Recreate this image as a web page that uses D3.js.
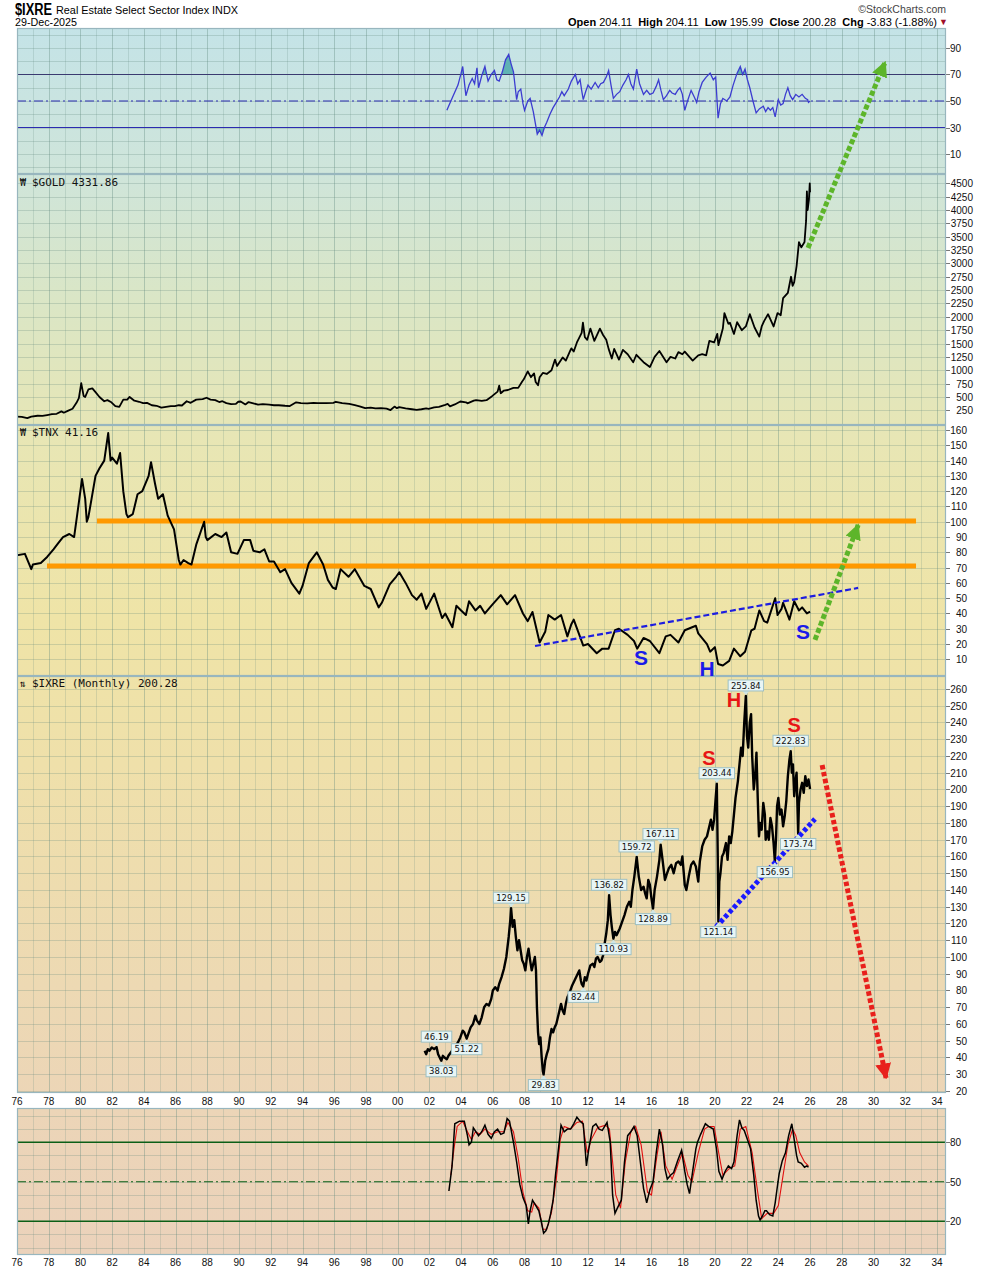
<!DOCTYPE html>
<html><head><meta charset="utf-8">
<script src="https://cdn.jsdelivr.net/npm/d3@7"></script>
<style>body{margin:0;background:#fff}svg{display:block}</style>
</head><body><svg id="c" width="990" height="1270"></svg>
<script>
// ---------------- DATA ----------------
const xTickYears = d3.range(1976, 2035, 2);
const rsiTicks = [10, 30, 50, 70, 90];
const goldTicks = d3.range(250, 4501, 250);
const tnxTicks = d3.range(10, 161, 10);
const ixreTicks = d3.range(20, 261, 10);
const stochTicks = [20, 50, 80];

const rsiData = [[2003.1,43],[2003.5,54],[2003.8,62],[2004.0,71],[2004.1,76],[2004.3,54],[2004.5,62],[2004.7,67],[2004.85,63],[2005.0,75],[2005.1,60],[2005.3,69],[2005.5,76],[2005.7,65],[2005.9,70],[2006.1,73],[2006.25,66],[2006.4,65],[2006.6,72],[2006.8,81],[2007.0,85],[2007.15,78],[2007.3,72],[2007.5,51],[2007.6,57],[2007.76,59],[2007.9,48],[2008.0,43],[2008.2,50],[2008.35,52],[2008.55,42],[2008.8,25],[2008.95,28],[2009.1,24],[2009.25,30],[2009.4,34],[2009.6,40],[2009.8,45],[2010.0,49],[2010.2,53],[2010.35,57],[2010.5,54],[2010.76,59],[2010.95,65],[2011.2,70],[2011.35,63],[2011.5,66],[2011.6,58],[2011.7,51],[2011.85,57],[2012.0,62],[2012.2,59],[2012.45,64],[2012.65,60],[2012.8,63],[2012.97,64],[2013.15,68],[2013.3,73],[2013.45,62],[2013.6,52],[2013.8,55],[2014.0,57],[2014.2,62],[2014.4,66],[2014.55,70],[2014.7,63],[2014.86,59],[2015.07,74],[2015.25,63],[2015.5,55],[2015.7,58],[2015.9,55],[2016.1,56],[2016.3,61],[2016.45,66],[2016.6,58],[2016.75,51],[2016.95,54],[2017.15,58],[2017.3,56],[2017.5,55],[2017.65,58],[2017.8,60],[2017.95,55],[2018.1,43],[2018.3,51],[2018.5,58],[2018.7,53],[2018.85,49],[2019.0,57],[2019.2,64],[2019.45,68],[2019.7,71],[2019.9,66],[2020.05,68],[2020.2,37],[2020.35,48],[2020.5,52],[2020.75,50],[2020.95,53],[2021.15,62],[2021.4,71],[2021.6,76],[2021.75,70],[2021.9,74],[2022.05,66],[2022.2,60],[2022.4,50],[2022.6,41],[2022.8,44],[2023.05,46],[2023.2,42],[2023.35,45],[2023.5,43],[2023.65,45],[2023.8,38],[2024.0,51],[2024.15,47],[2024.3,48],[2024.45,55],[2024.6,60],[2024.75,54],[2024.9,51],[2025.1,55],[2025.3,53],[2025.5,55],[2025.7,52],[2025.85,51],[2025.9,49],[2026.0,50]];

const goldData = [[1976.0,130],[1976.3,128],[1976.65,105],[1976.9,133],[1977.3,148],[1977.6,145],[1977.9,162],[1978.2,180],[1978.5,185],[1978.8,230],[1978.95,205],[1979.2,240],[1979.5,280],[1979.75,390],[1979.9,480],[1980.05,760],[1980.2,520],[1980.3,500],[1980.5,640],[1980.75,660],[1980.95,590],[1981.2,500],[1981.5,420],[1981.7,440],[1981.95,400],[1982.2,330],[1982.45,315],[1982.7,450],[1982.95,450],[1983.1,500],[1983.4,430],[1983.7,410],[1983.95,385],[1984.2,390],[1984.5,345],[1984.8,335],[1985.1,300],[1985.4,315],[1985.7,330],[1985.95,327],[1986.2,345],[1986.4,340],[1986.7,420],[1986.95,390],[1987.3,450],[1987.7,460],[1987.95,485],[1988.2,450],[1988.5,440],[1988.75,405],[1988.95,420],[1989.2,385],[1989.5,365],[1989.8,370],[1989.95,410],[1990.1,415],[1990.4,360],[1990.6,405],[1990.9,380],[1991.2,355],[1991.5,365],[1991.9,355],[1992.2,345],[1992.5,345],[1992.9,335],[1993.2,330],[1993.6,400],[1993.9,385],[1994.3,380],[1994.7,390],[1994.95,385],[1995.5,385],[1995.95,390],[1996.1,410],[1996.5,385],[1996.95,370],[1997.3,345],[1997.6,325],[1997.95,290],[1998.3,300],[1998.6,285],[1998.95,290],[1999.3,280],[1999.55,255],[1999.8,320],[1999.95,290],[2000.1,310],[2000.5,285],[2000.9,270],[2001.2,260],[2001.5,270],[2001.8,285],[2001.95,278],[2002.3,305],[2002.6,315],[2002.95,345],[2003.15,370],[2003.3,325],[2003.6,360],[2003.95,415],[2004.3,400],[2004.4,380],[2004.8,430],[2004.95,440],[2005.3,425],[2005.6,440],[2005.95,515],[2006.3,600],[2006.4,710],[2006.5,570],[2006.7,620],[2006.95,630],[2007.3,670],[2007.6,670],[2007.85,790],[2007.95,830],[2008.2,980],[2008.4,870],[2008.6,940],[2008.7,780],[2008.85,720],[2008.95,870],[2009.15,950],[2009.4,930],[2009.7,1000],[2009.92,1200],[2010.05,1080],[2010.4,1240],[2010.6,1180],[2010.9,1380],[2010.95,1410],[2011.1,1350],[2011.3,1520],[2011.6,1700],[2011.68,1890],[2011.8,1620],[2011.95,1570],[2012.15,1780],[2012.4,1550],[2012.75,1780],[2012.95,1660],[2013.15,1570],[2013.3,1400],[2013.5,1220],[2013.65,1400],[2013.95,1200],[2014.2,1380],[2014.5,1300],[2014.85,1150],[2015.05,1290],[2015.5,1150],[2015.9,1060],[2016.2,1250],[2016.5,1360],[2016.95,1150],[2017.2,1250],[2017.5,1220],[2017.7,1340],[2017.95,1300],[2018.1,1350],[2018.6,1180],[2018.95,1280],[2019.2,1300],[2019.45,1280],[2019.65,1550],[2019.95,1520],[2020.15,1680],[2020.22,1470],[2020.5,1780],[2020.6,2070],[2020.85,1870],[2020.95,1890],[2021.2,1680],[2021.4,1900],[2021.7,1750],[2021.95,1820],[2022.2,2050],[2022.5,1800],[2022.8,1630],[2022.95,1820],[2023.1,1920],[2023.35,2050],[2023.7,1820],[2023.95,2070],[2024.15,2030],[2024.3,2350],[2024.6,2450],[2024.8,2750],[2024.9,2580],[2025.0,2650],[2025.15,2950],[2025.3,3400],[2025.45,3300],[2025.65,3400],[2025.75,3800],[2025.8,4350],[2025.85,4000],[2025.93,4200],[2025.98,4500],[2026.0,4332]];

const tnxData = [[1976.0,78],[1976.5,79],[1976.9,69],[1977.0,72],[1977.5,73],[1977.9,77],[1978.3,82],[1978.6,86],[1978.9,90],[1979.3,92],[1979.6,90],[1979.8,105],[1980.1,128],[1980.3,115],[1980.4,100],[1980.5,103],[1980.7,115],[1980.95,130],[1981.2,135],[1981.5,140],[1981.75,158],[1981.9,140],[1982.0,142],[1982.3,138],[1982.5,145],[1982.7,120],[1982.9,105],[1983.0,103],[1983.3,105],[1983.6,118],[1983.9,120],[1984.3,130],[1984.45,139],[1984.7,125],[1984.9,115],[1985.2,118],[1985.5,104],[1985.9,95],[1986.2,75],[1986.3,72],[1986.5,75],[1986.8,73],[1987.0,72],[1987.3,85],[1987.8,100],[1987.9,90],[1988.0,88],[1988.5,92],[1988.9,90],[1989.2,93],[1989.5,80],[1989.9,79],[1990.3,88],[1990.7,88],[1990.9,81],[1991.3,80],[1991.6,82],[1991.9,74],[1992.2,74],[1992.6,67],[1992.9,69],[1993.3,60],[1993.8,53],[1994.0,58],[1994.4,73],[1994.9,80],[1995.3,72],[1995.6,62],[1995.9,57],[1996.1,56],[1996.4,69],[1996.9,64],[1997.3,69],[1997.9,58],[1998.3,56],[1998.8,44],[1999.0,47],[1999.5,59],[1999.9,64],[2000.1,67],[2000.5,60],[2000.9,52],[2001.2,49],[2001.5,53],[2001.8,43],[2002.3,53],[2002.8,37],[2003.0,40],[2003.45,31],[2003.7,45],[2004.0,42],[2004.3,39],[2004.5,48],[2004.9,42],[2005.2,45],[2005.5,40],[2005.9,45],[2006.5,52],[2006.9,46],[2007.4,52],[2007.9,40],[2008.2,35],[2008.5,41],[2008.95,21],[2009.3,28],[2009.5,39],[2009.9,36],[2010.3,39],[2010.7,25],[2010.95,33],[2011.1,36],[2011.7,19],[2012.0,20],[2012.55,14],[2012.9,17],[2013.3,17],[2013.7,29],[2013.95,30],[2014.5,26],[2014.9,22],[2015.1,17],[2015.5,24],[2015.9,22],[2016.5,14],[2016.9,25],[2017.2,26],[2017.7,21],[2018.1,29],[2018.8,32],[2018.95,27],[2019.5,20],[2019.7,15],[2020.0,18],[2020.2,7],[2020.5,6],[2020.9,9],[2021.2,17],[2021.6,12],[2021.9,15],[2022.3,29],[2022.5,30],[2022.8,42],[2023.1,35],[2023.3,34],[2023.8,50],[2023.95,39],[2024.2,43],[2024.3,47],[2024.7,36],[2025.0,48],[2025.3,42],[2025.5,44],[2025.8,40],[2026.0,41.16]];

const ixreData = [[2001.7,44],[2001.8,42],[2001.9,45],[2002.0,44],[2002.15,46],[2002.3,45],[2002.45,46.19],[2002.55,42],[2002.65,40],[2002.75,38.03],[2002.85,41],[2002.95,40],[2003.1,39],[2003.2,41],[2003.35,43],[2003.5,45],[2003.65,47],[2003.8,49],[2003.95,52],[2004.1,56],[2004.2,55],[2004.35,51.22],[2004.45,54],[2004.6,58],[2004.75,60],[2004.9,65],[2005.0,62],[2005.15,60],[2005.3,64],[2005.45,70],[2005.6,72],[2005.75,71],[2005.9,75],[2006.0,80],[2006.15,82],[2006.3,80],[2006.4,84],[2006.55,88],[2006.7,93],[2006.85,100],[2007.0,112],[2007.1,122],[2007.15,129.15],[2007.25,118],[2007.35,122],[2007.45,112],[2007.55,104],[2007.65,110],[2007.75,104],[2007.85,98],[2007.95,96],[2008.05,92],[2008.15,100],[2008.25,105],[2008.35,98],[2008.45,92],[2008.55,96],[2008.65,100],[2008.72,92],[2008.78,70],[2008.85,55],[2008.92,48],[2009.0,52],[2009.08,40],[2009.15,32],[2009.2,29.83],[2009.3,38],[2009.4,42],[2009.5,45],[2009.6,52],[2009.7,57],[2009.8,55],[2009.9,58],[2010.0,60],[2010.15,66],[2010.3,72],[2010.4,68],[2010.5,66],[2010.6,72],[2010.7,76],[2010.85,79],[2011.0,83],[2011.15,86],[2011.3,89],[2011.45,92],[2011.55,86],[2011.6,84],[2011.7,82.44],[2011.8,88],[2011.9,86],[2012.0,90],[2012.15,95],[2012.3,96],[2012.4,94],[2012.5,99],[2012.6,100],[2012.75,97],[2012.85,98],[2012.95,101],[2013.05,108],[2013.15,114],[2013.25,122],[2013.33,136.82],[2013.42,125],[2013.5,118],[2013.6,110.93],[2013.7,115],[2013.8,113],[2013.9,115],[2014.0,117],[2014.15,121],[2014.3,125],[2014.45,130],[2014.6,133],[2014.7,130],[2014.8,140],[2014.92,148],[2015.07,159.72],[2015.2,148],[2015.35,140],[2015.5,142],[2015.6,138],[2015.7,135],[2015.8,146],[2015.9,143],[2016.0,135],[2016.1,128.89],[2016.2,140],[2016.35,148],[2016.5,158],[2016.58,167.11],[2016.7,158],[2016.85,146],[2016.95,149],[2017.1,153],[2017.25,155],[2017.4,150],[2017.55,156],[2017.7,157],[2017.85,155],[2017.95,160],[2018.1,143],[2018.2,140],[2018.35,148],[2018.5,155],[2018.65,157],[2018.8,154],[2018.95,145],[2019.05,157],[2019.2,166],[2019.35,170],[2019.5,172],[2019.65,178],[2019.75,182],[2019.85,176],[2019.95,182],[2020.05,195],[2020.12,203.44],[2020.18,160],[2020.22,121.14],[2020.28,145],[2020.35,150],[2020.45,160],[2020.55,162],[2020.7,168],[2020.8,158],[2020.9,172],[2021.0,168],[2021.1,175],[2021.2,185],[2021.3,195],[2021.45,205],[2021.55,215],[2021.65,225],[2021.75,220],[2021.85,240],[2021.95,255.84],[2022.02,232],[2022.1,225],[2022.2,240],[2022.28,245],[2022.35,220],[2022.45,200],[2022.55,210],[2022.62,222],[2022.7,195],[2022.78,172],[2022.85,180],[2022.95,176],[2023.05,192],[2023.15,185],[2023.2,170],[2023.3,175],[2023.4,170],[2023.5,183],[2023.6,178],[2023.7,168],[2023.78,156.95],[2023.85,170],[2023.92,190],[2024.0,195],[2024.1,185],[2024.2,188],[2024.3,178],[2024.4,184],[2024.5,193],[2024.6,208],[2024.7,218],[2024.78,222.83],[2024.85,210],[2024.92,215],[2025.0,196],[2025.08,205],[2025.15,210],[2025.25,173.74],[2025.3,192],[2025.4,200],[2025.5,204],[2025.6,198],[2025.7,208],[2025.8,202],[2025.9,206],[2026.0,200.28]];

const ixreLabels = [
  {year:2002.45, value:46.19, text:"46.19", dir:"high"},
  {year:2002.75, value:38.03, text:"38.03", dir:"low"},
  {year:2004.35, value:51.22, text:"51.22", dir:"low"},
  {year:2007.15, value:129.15, text:"129.15", dir:"high"},
  {year:2009.2, value:29.83, text:"29.83", dir:"low"},
  {year:2011.7, value:82.44, text:"82.44", dir:"low"},
  {year:2013.33, value:136.82, text:"136.82", dir:"high"},
  {year:2013.6, value:110.93, text:"110.93", dir:"low"},
  {year:2015.07, value:159.72, text:"159.72", dir:"high"},
  {year:2016.1, value:128.89, text:"128.89", dir:"low"},
  {year:2016.58, value:167.11, text:"167.11", dir:"high"},
  {year:2020.12, value:203.44, text:"203.44", dir:"high"},
  {year:2020.22, value:121.14, text:"121.14", dir:"low"},
  {year:2021.95, value:255.84, text:"255.84", dir:"high"},
  {year:2023.78, value:156.95, text:"156.95", dir:"low"},
  {year:2024.78, value:222.83, text:"222.83", dir:"high"},
  {year:2025.25, value:173.74, text:"173.74", dir:"low"}
];

const stochK = [[2003.23,43],[2003.43,62],[2003.6,94],[2003.9,96],[2004.2,96],[2004.4,85],[2004.5,78],[2004.65,80],[2004.77,91],[2005.1,85],[2005.3,88],[2005.5,93],[2005.7,86],[2005.9,83],[2006.1,88],[2006.3,90],[2006.5,86],[2006.7,87],[2006.9,98],[2007.05,96],[2007.3,80],[2007.5,65],[2007.7,48],[2007.9,38],[2008.1,32],[2008.24,18],[2008.35,28],[2008.5,36],[2008.7,32],[2008.9,28],[2009.05,20],[2009.2,11],[2009.35,13],[2009.5,18],[2009.65,26],[2009.8,36],[2009.95,55],[2010.1,71],[2010.3,93],[2010.5,88],[2010.7,90],[2010.9,90],[2011.1,94],[2011.3,99],[2011.5,96],[2011.7,94],[2011.9,62],[2012.05,75],[2012.3,92],[2012.5,94],[2012.7,90],[2012.9,89],[2013.05,92],[2013.2,95],[2013.4,80],[2013.55,40],[2013.7,26],[2013.85,30],[2014.1,36],[2014.3,65],[2014.5,85],[2014.7,88],[2014.9,92],[2015.1,85],[2015.3,65],[2015.5,45],[2015.7,34],[2015.9,44],[2016.1,50],[2016.3,72],[2016.5,90],[2016.7,78],[2016.85,60],[2017.0,52],[2017.2,55],[2017.4,57],[2017.65,66],[2017.9,74],[2018.1,58],[2018.25,48],[2018.4,41],[2018.6,58],[2018.8,75],[2018.9,80],[2019.1,86],[2019.4,94],[2019.6,92],[2019.9,90],[2020.1,75],[2020.25,58],[2020.45,52],[2020.65,58],[2020.85,62],[2021.05,60],[2021.2,65],[2021.4,85],[2021.55,97],[2021.7,91],[2021.85,89],[2022.05,82],[2022.25,75],[2022.45,55],[2022.6,36],[2022.75,24],[2022.85,21],[2023.0,24],[2023.15,28],[2023.25,28],[2023.45,25],[2023.65,24],[2023.8,34],[2023.9,43],[2024.05,56],[2024.25,66],[2024.45,72],[2024.65,85],[2024.85,94],[2025.0,82],[2025.15,70],[2025.25,65],[2025.45,64],[2025.65,61],[2025.8,62],[2025.9,61]];

const stochD = [[2003.35,55],[2003.55,75],[2003.75,92],[2004.1,96],[2004.4,88],[2004.65,82],[2004.9,88],[2005.2,86],[2005.5,90],[2005.9,86],[2006.3,88],[2006.7,88],[2006.95,95],[2007.3,88],[2007.6,68],[2007.9,42],[2008.2,28],[2008.45,27],[2008.6,34],[2008.9,30],[2009.15,14],[2009.4,14],[2009.7,27],[2010.0,52],[2010.25,82],[2010.5,92],[2010.9,90],[2011.3,95],[2011.65,96],[2011.95,72],[2012.2,82],[2012.6,91],[2013.1,93],[2013.35,90],[2013.75,40],[2014.05,30],[2014.35,65],[2014.7,88],[2015.0,92],[2015.35,78],[2015.75,42],[2016.0,40],[2016.35,70],[2016.6,88],[2016.9,62],[2017.3,52],[2017.5,58],[2017.95,72],[2018.3,55],[2018.55,50],[2018.95,72],[2019.35,90],[2019.6,92],[2019.95,92],[2020.3,68],[2020.5,55],[2020.9,60],[2021.25,62],[2021.6,90],[2021.95,92],[2022.35,72],[2022.7,42],[2022.95,22],[2023.3,26],[2023.7,26],[2024.0,32],[2024.3,55],[2024.6,78],[2024.9,90],[2025.1,85],[2025.35,72],[2025.65,65],[2025.9,62]];

const tnxLetters = [{t:"S",year:2015.34,value:11.5},{t:"H",year:2019.5,value:4.3},{t:"S",year:2025.56,value:28.5}];
const ixreLetters = [{t:"S",year:2019.63,value:219},{t:"H",year:2021.2,value:253.6},{t:"S",year:2024.99,value:239}];

const orangeLevels = [{value:100.5, from:1981.04, to:2032.68},{value:71.05, from:1977.89, to:2032.68}];
const tnxTrend = {from:[2008.66,18.7], to:[2029.03,56.7]};
const tnxArrow = {from:[2026.31,22.7], to:[2029.03,97.9]};
const goldArrow = {from:[2025.87,3290], to:[2030.73,6768]};
const ixreTrend = {from:[2020.07,117.9], to:[2026.31,182.4]};
const ixreArrow = {from:[2026.76,214.6], to:[2030.79,27.8]};

// ---------------- LAYOUT ----------------
const L = 17, R = 946;
const svg = d3.select("#c");
const x = d3.scaleLinear().domain([1976, 2034.57]).range([L, R]);
const axisFont = "'Liberation Sans', Arial, sans-serif";
const narrow = "'Liberation Sans Narrow','Arial Narrow','Liberation Sans',Arial,sans-serif";

const P = {
  rsi:  {top:28,  bottom:174,  y:d3.scaleLinear().domain([-5,105]).range([174,28]), ticks:rsiTicks, grid:d3.range(0,101,10), labelEnd:961},
  gold: {top:174, bottom:425,  y:d3.scaleLinear().domain([-25,4674]).range([425,174]), ticks:goldTicks, grid:goldTicks, labelEnd:973},
  tnx:  {top:425, bottom:676,  y:d3.scaleLinear().domain([-0.9,163.3]).range([676,425]), ticks:tnxTicks, grid:tnxTicks, labelEnd:967},
  ixre: {top:676, bottom:1093, y:d3.scaleLinear().domain([18.8,267.76]).range([1093,676]), ticks:ixreTicks, grid:ixreTicks, labelEnd:967},
  stoch:{top:1108,bottom:1255, y:d3.scaleLinear().domain([-5.6,106]).range([1255,1108]), ticks:stochTicks, grid:d3.range(0,101,10), labelEnd:961}
};

const defs = svg.append("defs");
const grad = defs.append("linearGradient").attr("id","bg").attr("gradientUnits","userSpaceOnUse")
  .attr("x1",0).attr("x2",0).attr("y1",28).attr("y2",1255);
[[0,"#c4e3e7"],[0.12,"#cfe5da"],[0.22,"#dae6c6"],[0.34,"#e8e6b4"],[0.48,"#efe4a7"],[0.6,"#efe0aa"],[0.78,"#edd9b3"],[0.88,"#ecd5b7"],[1,"#ebd2bb"]]
  .forEach(([o,c])=>grad.append("stop").attr("offset",o).attr("stop-color",c));

function marker(id,color){
  defs.append("marker").attr("id",id).attr("viewBox","0 0 10 10").attr("refX",9).attr("refY",5)
    .attr("markerWidth",16).attr("markerHeight",16).attr("markerUnits","userSpaceOnUse").attr("orient","auto")
    .append("path").attr("d","M0,0 L10,5 L0,10 Z").attr("fill",color);
}
marker("mGreen","#5db52a"); marker("mRed","#e8201c");

Object.entries(P).forEach(([k,p])=>{
  defs.append("clipPath").attr("id","clip-"+k).append("rect")
    .attr("x",L).attr("y",p.top).attr("width",R-L).attr("height",p.bottom-p.top);
  const g = svg.append("g");
  g.append("rect").attr("x",L).attr("y",p.top).attr("width",R-L).attr("height",p.bottom-p.top).attr("fill","url(#bg)");
  const gg = g.append("g").attr("clip-path",`url(#clip-${k})`);
  p.grid.forEach(v=>gg.append("line").attr("x1",L).attr("x2",R).attr("y1",Math.round(p.y(v))+0.5).attr("y2",Math.round(p.y(v))+0.5)
    .attr("stroke","rgba(95,135,125,0.26)").attr("stroke-width",1));
  for(let yr=1977; yr<=2034; yr++){
    const xx = Math.round(x(yr))+0.5;
    gg.append("line").attr("x1",xx).attr("x2",xx).attr("y1",p.top).attr("y2",p.bottom)
      .attr("stroke", yr%2===0 ? "rgba(95,135,125,0.36)" : "rgba(95,135,125,0.2)").attr("stroke-width",1);
  }
  p.g = gg;
  p.ticks.forEach(v=>{
    const yy = Math.round(p.y(v))+0.5;
    svg.append("line").attr("x1",R).attr("x2",R+4).attr("y1",yy).attr("y2",yy).attr("stroke","#777");
    svg.append("text").attr("x",p.labelEnd).attr("y",yy+3.6).attr("text-anchor","end")
      .attr("font-family",axisFont).attr("font-size",10).attr("fill","#111").text(v);
  });
});

[1105, 1266].forEach(yy=>{
  xTickYears.forEach(yr=>{
    svg.append("text").attr("x",x(yr)).attr("y",yy).attr("text-anchor","middle")
      .attr("font-family",axisFont).attr("font-size",10).attr("fill","#111")
      .text(String(yr%100).padStart(2,"0"));
  });
});

const lineOf = (ys)=> d3.line().x(d=>x(d[0])).y(d=>ys(d[1]));

{
  const p = P.rsi, g = p.g;
  defs.append("clipPath").attr("id","above70").append("rect").attr("x",L).attr("y",p.top).attr("width",R-L).attr("height",p.y(70)-p.top);
  defs.append("clipPath").attr("id","below30").append("rect").attr("x",L).attr("y",p.y(30)).attr("width",R-L).attr("height",p.bottom-p.y(30));
  const a70 = d3.area().x(d=>x(d[0])).y0(p.y(70)).y1(d=>p.y(d[1]));
  const a30 = d3.area().x(d=>x(d[0])).y0(p.y(30)).y1(d=>p.y(d[1]));
  g.append("g").attr("clip-path","url(#above70)").append("path").attr("d",a70(rsiData)).attr("fill","#5fb2b4");
  g.append("g").attr("clip-path","url(#below30)").append("path").attr("d",a30(rsiData)).attr("fill","#5fb2b4");
  [[70,null],[30,null],[50,"9,3,2,3"]].forEach(([v,dash])=>{
    g.append("line").attr("x1",L).attr("x2",R).attr("y1",p.y(v)).attr("y2",p.y(v))
      .attr("stroke", v===70 ? "#3a3a70" : "#2b2bb0").attr("stroke-width",1.1).attr("stroke-dasharray",dash);
  });
  g.append("path").attr("d",lineOf(p.y)(rsiData)).attr("fill","none").attr("stroke","#3c3cd0").attr("stroke-width",1.3);
}

P.gold.g.append("path").attr("d",lineOf(P.gold.y)(goldData)).attr("fill","none").attr("stroke","#000").attr("stroke-width",1.8).attr("stroke-linejoin","round");

{
  const p = P.tnx, g = p.g;
  orangeLevels.forEach(o=>g.append("line").attr("x1",x(o.from)).attr("x2",x(o.to)).attr("y1",p.y(o.value)).attr("y2",p.y(o.value))
    .attr("stroke","#ff9900").attr("stroke-width",5));
  g.append("path").attr("d",lineOf(p.y)(tnxData)).attr("fill","none").attr("stroke","#000").attr("stroke-width",2).attr("stroke-linejoin","round");
}

P.ixre.g.append("path").attr("d",lineOf(P.ixre.y)(ixreData)).attr("fill","none").attr("stroke","#000").attr("stroke-width",2.4).attr("stroke-linejoin","round");

{
  const p = P.stoch, g = p.g;
  [[80,null],[20,null],[50,"9,3,2,3"]].forEach(([v,dash])=>{
    g.append("line").attr("x1",L).attr("x2",R).attr("y1",p.y(v)).attr("y2",p.y(v))
      .attr("stroke","#0b5f16").attr("stroke-width",v===50?1.2:1.6).attr("stroke-dasharray",dash);
  });
  g.append("path").attr("d",lineOf(p.y)(stochD)).attr("fill","none").attr("stroke","#e01010").attr("stroke-width",1.1);
  g.append("path").attr("d",lineOf(p.y)(stochK)).attr("fill","none").attr("stroke","#000").attr("stroke-width",1.5);
}

Object.values(P).forEach(p=>{
  svg.append("rect").attr("x",L+0.5).attr("y",p.top+0.5).attr("width",R-L-1).attr("height",p.bottom-p.top-1)
    .attr("fill","none").attr("stroke","#98b6be").attr("stroke-width",1.2);
});

function seg(ys, a, opts){
  return svg.append("line").attr("x1",x(a.from[0])).attr("y1",ys(a.from[1])).attr("x2",x(a.to[0])).attr("y2",ys(a.to[1]))
    .attr("stroke",opts.c).attr("stroke-width",opts.w).attr("stroke-dasharray",opts.d).attr("marker-end",opts.m||null);
}
seg(P.tnx.y, tnxTrend, {c:"#1d1de0", w:2.2, d:"6,3"});
seg(P.tnx.y, tnxArrow, {c:"#5db52a", w:5, d:"5,2.5", m:"url(#mGreen)"});
seg(P.gold.y, goldArrow, {c:"#5db52a", w:5, d:"5,2.5", m:"url(#mGreen)"});
seg(P.ixre.y, ixreTrend, {c:"#1a1aff", w:5, d:"4,2.5"});
seg(P.ixre.y, ixreArrow, {c:"#e8201c", w:5, d:"4.5,2.5", m:"url(#mRed)"});

tnxLetters.forEach(d=>svg.append("text").attr("x",x(d.year)).attr("y",P.tnx.y(d.value)+7.5).attr("text-anchor","middle")
  .attr("font-family",axisFont).attr("font-weight","bold").attr("font-size",21)
  .attr("fill","#1b1be8").text(d.t));
ixreLetters.forEach(d=>svg.append("text").attr("x",x(d.year)).attr("y",P.ixre.y(d.value)+7.5).attr("text-anchor","middle")
  .attr("font-family",axisFont).attr("font-weight","bold").attr("font-size",20)
  .attr("fill","#e81515").text(d.t));

ixreLabels.forEach(l=>{
  const px = x(l.year), py = P.ixre.y(l.value);
  const w = l.text.length*4.9+6, h = 11;
  const bx = px - w/2;
  const by = l.dir==="high" ? py - 5 - h : py + 5;
  const g = svg.append("g");
  const tri = l.dir==="high"
    ? `M${px-4},${by+h-0.5} L${px+4},${by+h-0.5} L${px},${py-1} Z`
    : `M${px-4},${by+0.5} L${px+4},${by+0.5} L${px},${py+1} Z`;
  g.append("path").attr("d",tri).attr("fill","#cfe6e6");
  g.append("rect").attr("x",bx).attr("y",by).attr("width",w).attr("height",h)
    .attr("fill","#e8f5f5").attr("stroke","#9ec0c4").attr("stroke-width",1);
  g.append("text").attr("x",px).attr("y",by+8.6).attr("text-anchor","middle")
    .attr("font-family","'DejaVu Sans',Verdana,sans-serif").attr("font-size",8.5).attr("fill","#111").text(l.text);
});

const mono = "'DejaVu Sans Mono',monospace";
[[186,"₩","$GOLD 4331.86"],[436,"₩","$TNX 41.16"],[687,"⇅","$IXRE (Monthly) 200.28"]].forEach(([yy,ic,t])=>{
  svg.append("text").attr("x",20).attr("y",yy).attr("font-family",mono).attr("font-size",10).attr("fill","#111").text(ic);
  svg.append("text").attr("x",32).attr("y",yy).attr("font-family",mono).attr("font-size",11).attr("fill","#111").text(t);
});

function hdr(xx, yy, txt, size, bold, len, anchor, fill){
  const t = svg.append("text").attr("x",xx).attr("y",yy).attr("font-family",narrow).attr("font-size",size)
    .attr("font-weight",bold?"bold":"normal").attr("fill",fill||"#000").attr("text-anchor",anchor||"start").text(txt);
  if(len) t.attr("textLength",len).attr("lengthAdjust","spacingAndGlyphs");
  return t;
}
hdr(15, 15, "$IXRE", 16, true, 37);
hdr(56, 14, "Real Estate Select Sector Index  INDX", 11, false, 182);
hdr(15, 26, "29-Dec-2025", 10.5, false, 62);
hdr(946, 13, "©StockCharts.com", 10.5, false, null, "end", "#444");
const ohlc = svg.append("text").attr("x",937).attr("y",26).attr("text-anchor","end").attr("font-family",narrow).attr("font-size",11).attr("fill","#000");
[["Open ",true],["204.11  ",false],["High ",true],["204.11  ",false],["Low ",true],["195.99  ",false],["Close ",true],["200.28  ",false],["Chg ",true],["-3.83 (-1.88%)",false]]
  .forEach(([t,b])=>ohlc.append("tspan").attr("font-weight",b?"bold":"normal").attr("xml:space","preserve").text(t));
svg.append("text").attr("x",939).attr("y",25).attr("fill","#a0102a").attr("font-size",9).attr("font-family",axisFont).text("▼");
</script></body></html>
